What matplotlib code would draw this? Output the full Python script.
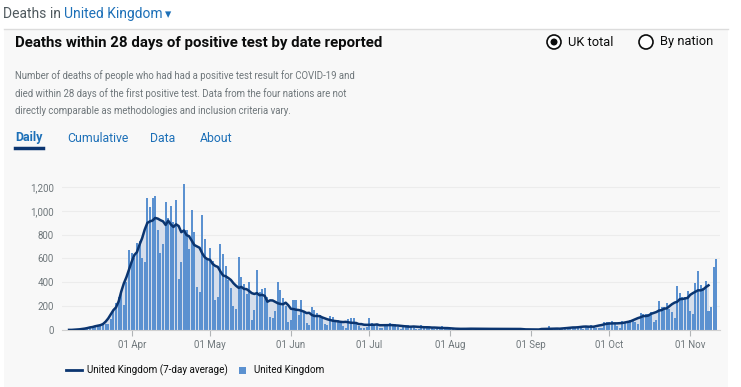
import matplotlib.pyplot as plt
import matplotlib.dates as mdates
import pandas as pd
from matplotlib.patches import Rectangle, Ellipse
from matplotlib.lines import Line2D

plt.rcParams['font.family'] = ['Roboto', 'DejaVu Sans']

# daily deaths within 28 days, by date reported (5 Mar - 11 Nov 2020)
march = [1, 1, 0, 1, 1, 1, 2, 1, 10, 11, 14, 20, 24, 33, 40, 33, 56, 48, 50, 90,
         170, 230, 280, 300, 210, 400, 670]
april = [650, 600, 730, 750, 600, 570, 1110, 1030, 1110, 1120, 840, 650, 720, 1070, 940,
         1040, 910, 1090, 430, 570, 1225, 840, 680, 1010, 820, 360, 315, 965, 760, 600]
may = [690, 580, 250, 280, 725, 640, 540, 420, 350, 200, 180, 610, 445, 390, 300, 405,
       85, 165, 500, 320, 340, 350, 280, 110, 100, 160, 400, 335, 265, 200, 70]
june = [84, 250, 250, 125, 250, 160, 56, 42, 195, 167, 140, 125, 100, 50, 40, 117, 112,
        84, 84, 60, 30, 20, 90, 98, 98, 56, 35, 20, 15, 25]
july = [98, 60, 50, 40, 20, 15, 45, 50, 60, 45, 50, 25, 10, 30, 42, 45, 35, 25, 10, 8,
        40, 30, 30, 25, 20, 8, 5, 25, 30, 20, 20]
august = [10, 5, 2, 12, 15, 14, 12, 8, 5, 3, 18, 16, 12, 10, 8, 4, 3, 14, 15, 12, 10, 6,
          4, 2, 15, 14, 12, 9, 6, 2, 2]
september = [3, 3, 10, 6, 2, 2, 3, 32, 8, 14, 6, 9, 5, 9, 27, 20, 21, 27, 27, 18, 11, 37,
             37, 40, 34, 17, 17, 13, 71, 71]
october = [66, 77, 49, 33, 19, 76, 70, 77, 87, 81, 65, 50, 143, 137, 138, 136, 150, 67, 80,
           241, 191, 189, 224, 174, 151, 102, 367, 310, 280, 274, 326]
november = [162, 136, 397, 492, 378, 355, 413, 156, 194, 532, 595]

deaths = march + april + may + june + july + august + september + october + november
dates = pd.date_range('2020-03-05', periods=len(deaths), freq='D')
s = pd.Series(deaths, index=dates)
avg = s.rolling(7, center=True).mean()

W, H = 741, 387
fig = plt.figure(figsize=(W / 100, H / 100), dpi=100)
fig.patch.set_facecolor('white')


def px(x, y):
    return x / W, 1 - y / H


# card background
fig.patches.append(Rectangle(px(4, 387), 724 / W, (387 - 29) / H, transform=fig.transFigure,
                             facecolor='#f8f8f8', edgecolor='none', zorder=-10))
fig.lines.append(Line2D([4 / W, 728 / W], [1 - 29 / H] * 2, transform=fig.transFigure,
                        color='#dcdcdc', lw=1, zorder=-5))

blue = '#1d70b8'
grey = '#6f777b'

# header
t = fig.text(*px(3, 14), 'Deaths in ', fontsize=10, color='#505a5f', va='center')
fig.canvas.draw()
bb = t.get_window_extent()
t2 = fig.text(bb.x1 / W, 1 - 14 / H, 'United Kingdom', fontsize=10, color=blue, va='center')
fig.canvas.draw()
bb2 = t2.get_window_extent()
fig.text(bb2.x1 / W + 0.002, 1 - 15 / H, '\u25be', fontsize=9, color=blue, va='center',
         family=['DejaVu Sans'])

fig.text(*px(15, 43), 'Deaths within 28 days of positive test by date reported',
         fontsize=10.8, fontweight='bold', color='#0b0c0c', va='center')

# radio buttons
for cx, label, on in [(554, 'UK total', True), (646, 'By nation', False)]:
    fig.patches.append(Ellipse(px(cx, 42), 14 / W, 14 / H, transform=fig.transFigure,
                               facecolor='white', edgecolor='#0b0c0c', lw=1.2))
    if on:
        fig.patches.append(Ellipse(px(cx, 42), 7 / W, 7 / H, transform=fig.transFigure,
                                   facecolor='#0b0c0c', edgecolor='none'))
    fig.text(*px(cx + 14, 42), label, fontsize=9.3, color='#0b0c0c', va='center')

desc = ['Number of deaths of people who had had a positive test result for COVID-19 and',
        'died within 28 days of the first positive test. Data from the four nations are not',
        'directly comparable as methodologies and inclusion criteria vary.']
for i, line in enumerate(desc):
    fig.text(*px(15, 76 + i * 17.5), line, fontsize=6.9, color=grey, va='center')

# tabs
fig.text(*px(15, 138), 'Daily', fontsize=9, fontweight='bold', color=blue, va='center')
fig.lines.append(Line2D([15 / W, 43 / W], [1 - 148 / H] * 2, transform=fig.transFigure,
                        color='#0b3570', lw=2.5))
for x, label in [(67, 'Cumulative'), (150, 'Data'), (200, 'About')]:
    fig.text(*px(x, 138), label, fontsize=8.8, color=blue, va='center')

# chart
ax = fig.add_axes([62 / W, 1 - 330 / H, (720 - 62) / W, (330 - 181) / H])
ax.set_facecolor('#f8f8f8')
ax.fill_between(avg.index, 0, avg.values, color='#d6deeb', lw=0, zorder=1)
ax.bar(s.index, s.values, width=0.78, color='#5b91d0', zorder=2)
ax.plot(avg.index, avg.values, color='#0b3570', lw=1.8, zorder=3)

apr1 = mdates.date2num(pd.Timestamp('2020-04-01'))
ax.set_xlim(apr1 - 26.7, apr1 + 225.4)
ax.set_ylim(0, 1250)
ax.set_yticks(range(0, 1201, 200))
ax.set_yticklabels([f'{v:,}' for v in range(0, 1201, 200)])
ax.grid(axis='y', color='#ececec', lw=0.8, zorder=0)
ax.set_axisbelow(True)
ax.xaxis.set_major_locator(mdates.MonthLocator(bymonth=range(4, 12)))
ax.xaxis.set_major_formatter(mdates.DateFormatter('%d %b'))
ax.tick_params(axis='x', colors='#b1b4b6', labelcolor=grey, labelsize=7, length=4, width=0.8)
ax.tick_params(axis='y', length=0, labelcolor=grey, labelsize=7, pad=6)
for side in ['top', 'right', 'left']:
    ax.spines[side].set_visible(False)
ax.spines['bottom'].set_color('#d0d0d0')

# legend
fig.lines.append(Line2D([66 / W, 82 / W], [1 - 370 / H] * 2, transform=fig.transFigure,
                        color='#0b3570', lw=2))
fig.text(*px(87, 370), 'United Kingdom (7-day average)', fontsize=7.1, color='#0b0c0c',
         va='center')
fig.patches.append(Rectangle(px(239, 373.5), 7 / W, 7 / H, transform=fig.transFigure,
                             facecolor='#5b91d0', edgecolor='none'))
fig.text(*px(254, 370), 'United Kingdom', fontsize=7.1, color='#0b0c0c', va='center')

fig.savefig('out.png', dpi=100)
